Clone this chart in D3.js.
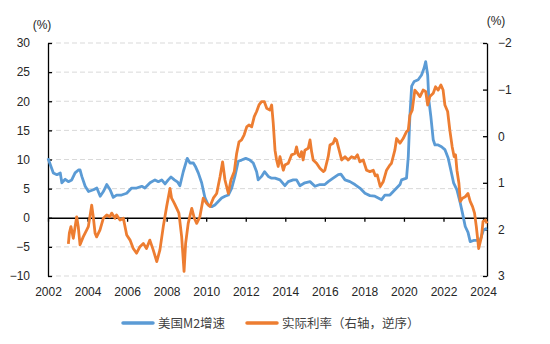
<!DOCTYPE html>
<html><head><meta charset="utf-8">
<script src="https://cdn.jsdelivr.net/npm/d3@7"></script>
<style>body{margin:0;background:#fff} svg{display:block}</style>
</head><body><svg id="c" width="550" height="344"></svg>
<script>
const yearTicks = [2002,2004,2006,2008,2010,2012,2014,2016,2018,2020,2022,2024];
const leftTicks = [30,25,20,15,10,5,0,-5,-10];
const rightTicks = [-2,-1,0,1,2,3];
const seriesNames = ["美国M2增速","实际利率（右轴，逆序）"];
const seriesColors = ["#5B9BD5","#ED7D31"];

const m2Time = [2002.00,2002.27,2002.45,2002.62,2002.70,2002.87,2003.03,2003.20,2003.37,2003.54,2003.62,2003.71,2003.88,
2004.05,2004.30,2004.47,2004.64,2004.80,2004.97,2005.14,2005.30,2005.47,2005.72,2005.98,2006.23,2006.48,2006.74,2006.90,
2007.16,2007.41,2007.58,2007.75,2007.92,2008.08,2008.22,2008.39,2008.56,2008.67,2008.84,2009.04,2009.18,2009.35,2009.47,
2009.60,2009.77,2009.94,2010.10,2010.28,2010.44,2010.61,2010.78,2010.95,2011.12,2011.29,2011.45,2011.62,2011.79,2012.00,
2012.21,2012.38,2012.55,2012.63,2012.80,2012.95,2013.14,2013.31,2013.48,2013.73,2013.98,2014.15,2014.40,2014.57,2014.74,
2014.99,2015.25,2015.50,2015.75,2016.00,2016.17,2016.42,2016.68,2016.81,2017.02,2017.27,2017.52,2017.77,2018.03,2018.28,
2018.53,2018.70,2018.87,2019.04,2019.29,2019.46,2019.63,2019.80,2019.88,2020.13,2020.22,2020.30,2020.39,2020.52,2020.72,
2020.89,2021.02,2021.10,2021.20,2021.26,2021.36,2021.48,2021.57,2021.73,2021.90,2022.07,2022.24,2022.37,2022.51,2022.68,
2022.85,2022.96,2023.10,2023.24,2023.35,2023.52,2023.69,2023.86,2024.02,2024.20];
const m2Values = [10.2,7.7,7.4,7.7,6.0,6.6,6.2,6.5,7.7,8.2,8.2,7.1,5.4,
4.5,4.8,5.1,3.7,4.5,5.7,4.8,3.5,3.9,3.9,4.2,5.1,5.1,5.4,5.1,
6.0,6.5,6.2,6.5,5.8,6.5,7.0,6.5,6.1,5.5,7.9,10.2,9.4,9.4,8.7,
7.7,6.0,3.4,2.2,1.9,2.2,2.8,3.4,3.7,3.9,5.1,7.1,9.7,9.9,10.2,
9.9,9.4,7.9,6.5,7.1,7.9,7.1,6.8,6.8,6.5,5.5,6.2,6.5,6.5,5.5,
6.0,6.2,5.4,5.7,5.7,6.2,6.8,7.4,7.5,6.5,6.2,5.7,5.1,4.2,3.8,
3.7,3.4,3.1,3.9,3.9,4.5,5.1,5.7,6.5,6.8,10.5,17.4,22.6,23.4,23.7,
24.5,25.7,26.8,24.5,20.2,17.4,13.4,12.5,12.5,12.2,11.7,10.2,8.2,6.0,4.8,
2.5,0.8,-1.5,-2.5,-4.1,-3.9,-3.9,-3.8,-2.1,-1.8];

const rateTime = [2003.03,2003.08,2003.16,2003.28,2003.45,2003.53,2003.62,2003.78,2003.96,2004.04,2004.21,2004.29,2004.38,
2004.46,2004.63,2004.80,2004.97,2005.13,2005.22,2005.39,2005.47,2005.64,2005.81,2005.98,2006.15,2006.31,2006.48,2006.65,
2006.82,2006.98,2007.15,2007.32,2007.50,2007.66,2007.83,2008.00,2008.17,2008.25,2008.39,2008.51,2008.62,2008.76,2008.88,
2008.96,2009.09,2009.27,2009.40,2009.52,2009.68,2009.85,2010.02,2010.19,2010.36,2010.53,2010.70,2010.83,2010.95,2011.12,
2011.25,2011.42,2011.54,2011.66,2011.79,2011.92,2012.05,2012.16,2012.30,2012.43,2012.55,2012.67,2012.80,2012.94,2013.06,
2013.22,2013.31,2013.39,2013.48,2013.56,2013.64,2013.73,2013.81,2013.90,2013.98,2014.15,2014.32,2014.49,2014.57,2014.65,
2014.74,2014.82,2014.90,2014.99,2015.16,2015.25,2015.33,2015.41,2015.58,2015.75,2015.92,2016.00,2016.17,2016.26,2016.42,
2016.51,2016.59,2016.68,2016.85,2017.02,2017.18,2017.35,2017.52,2017.65,2017.77,2017.94,2018.11,2018.28,2018.45,2018.55,
2018.65,2018.80,2018.95,2019.12,2019.29,2019.37,2019.54,2019.63,2019.80,2019.96,2020.13,2020.22,2020.30,2020.42,2020.55,
2020.69,2020.81,2020.97,2021.10,2021.20,2021.31,2021.48,2021.60,2021.73,2021.87,2021.98,2022.07,2022.21,2022.32,2022.44,
2022.54,2022.61,2022.68,2022.78,2022.85,2022.96,2023.10,2023.24,2023.35,2023.47,2023.57,2023.66,2023.78,2023.92,2024.00,
2024.12,2024.20];
const rateValues = [2.31,2.08,1.94,2.19,1.73,1.94,2.33,2.16,2.01,1.94,1.48,1.73,2.08,
2.16,2.01,1.76,1.69,1.73,1.65,1.76,1.69,1.80,1.76,2.12,2.23,2.41,2.51,2.37,
2.30,2.41,2.23,2.44,2.69,2.44,1.94,1.51,1.12,1.33,1.44,1.55,1.65,2.16,2.90,
2.30,1.87,1.55,1.76,1.87,1.73,1.33,1.44,1.51,1.33,1.23,0.87,0.55,0.94,1.23,
0.94,0.76,0.37,0.12,0.08,-0.03,-0.20,-0.24,-0.20,-0.42,-0.53,-0.67,-0.74,-0.74,-0.60,
-0.56,-0.67,-0.28,0.30,0.51,0.65,0.44,0.58,0.73,0.62,0.58,0.40,0.37,0.23,0.40,
0.44,0.33,0.51,0.30,0.26,0.08,0.33,0.51,0.58,0.69,0.76,0.73,0.44,0.19,0.15,
0.05,0.08,0.23,0.51,0.44,0.51,0.44,0.47,0.40,0.55,0.51,0.73,0.76,0.73,0.85,
0.83,1.08,0.98,0.73,0.62,0.58,0.30,0.05,0.15,0.05,-0.10,-0.13,-0.45,-0.56,-0.99,
-0.92,-0.85,-0.99,-0.96,-0.67,-0.85,-0.92,-1.06,-0.99,-1.10,-0.99,-0.67,-0.53,-0.13,0.23,
0.44,0.40,0.73,1.01,1.40,1.33,1.30,1.23,1.40,1.51,1.65,1.94,2.41,2.16,1.83,
1.80,1.87];

const svg = d3.select("#c");
const x = d3.scaleLinear().domain([2002, 2024.2]).range([48, 487]);
const yL = d3.scaleLinear().domain([-10, 30]).range([276, 43]);
const yR = d3.scaleLinear().domain([-2, 3]).range([43, 276]);
const font = "'Liberation Sans', Arial, sans-serif";
const txt = "#262626";

// gridlines
svg.append("g").selectAll("line").data(leftTicks.filter(d => d !== 0)).join("line")
  .attr("x1", 48).attr("x2", 487)
  .attr("y1", d => yL(d)).attr("y2", d => yL(d))
  .attr("stroke", "#D9D9D9").attr("stroke-width", 1).attr("stroke-dasharray", "5,3");

function styleAxis(g) {
  g.selectAll("path.domain").attr("stroke", "#000").attr("stroke-width", 1.3);
  g.selectAll(".tick line").attr("stroke", "#000").attr("stroke-width", 1.3);
  g.selectAll("text").attr("fill", txt).style("font-family", font).style("font-size", "12px");
}

// left axis
const gL = svg.append("g").attr("transform", "translate(48,0)")
  .call(d3.axisLeft(yL).tickValues(leftTicks).tickSizeInner(-4).tickSizeOuter(0).tickPadding(18).tickFormat(d3.format("d")));
styleAxis(gL);
// right axis
const gR = svg.append("g").attr("transform", "translate(487,0)")
  .call(d3.axisRight(yR).tickValues(rightTicks).tickSizeInner(-4).tickSizeOuter(0).tickPadding(11).tickFormat(d3.format("d")));
styleAxis(gR);
// x axis at zero
const gX = svg.append("g").attr("transform", `translate(0,${yL(0)})`)
  .call(d3.axisBottom(x).tickValues(yearTicks).tickSizeInner(4).tickSizeOuter(0).tickPadding(66).tickFormat(d3.format("d")));
styleAxis(gX);

// unit labels
svg.append("text").attr("x", 42).attr("y", 29).attr("text-anchor", "middle")
  .style("font-family", font).style("font-size", "12px").attr("fill", txt).text("(%)");
svg.append("text").attr("x", 496).attr("y", 25).attr("text-anchor", "middle")
  .style("font-family", font).style("font-size", "12px").attr("fill", txt).text("(%)");

// lines
const m2Data = m2Time.map((t, i) => [t, m2Values[i]]);
const rateData = rateTime.map((t, i) => [t, rateValues[i]]);
svg.append("path").datum(m2Data)
  .attr("d", d3.line().x(d => x(d[0])).y(d => yL(d[1])))
  .attr("fill", "none").attr("stroke", seriesColors[0]).attr("stroke-width", 2.8).attr("stroke-linejoin", "round");
svg.append("path").datum(rateData)
  .attr("d", d3.line().x(d => x(d[0])).y(d => yR(d[1])))
  .attr("fill", "none").attr("stroke", seriesColors[1]).attr("stroke-width", 2.8).attr("stroke-linejoin", "round");

// legend
const legendX = [123, 247];
const lg = svg.append("g");
seriesNames.forEach((name, i) => {
  lg.append("line").attr("x1", legendX[i]).attr("x2", legendX[i] + 30).attr("y1", 323).attr("y2", 323)
    .attr("stroke", seriesColors[i]).attr("stroke-width", 3.5).attr("stroke-linecap", "round");
  lg.append("text").attr("x", legendX[i] + 35).attr("y", 328)
    .style("font-family", "'Noto Sans CJK SC', sans-serif").style("font-size", "12.5px")
    .attr("fill", "#404040").text(name);
});
</script></body></html>
